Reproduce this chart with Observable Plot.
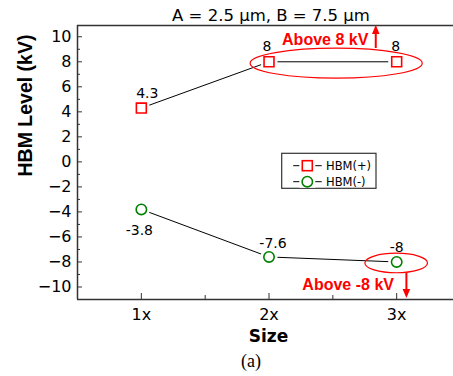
<!DOCTYPE html>
<html><head><meta charset="utf-8">
<script src="https://cdn.jsdelivr.net/npm/d3@7"></script>
<script src="https://cdn.jsdelivr.net/npm/@observablehq/plot@0.6"></script>
<style>html,body{margin:0;padding:0;background:#fff} svg{display:block}</style>
</head><body><div id="chart"></div>
<script>
// ---- data ----
const sizes = [1, 2, 3];
const sizeLabels = ["1x", "2x", "3x"];
const hbmPos = [4.3, 8, 8];
const hbmNeg = [-3.8, -7.6, -8];
const seriesNames = ["HBM(+)", "HBM(-)"];
const yMajorTicks = [-10, -8, -6, -4, -2, 0, 2, 4, 6, 8, 10];
const yMinorTicks = [-9, -7, -5, -3, -1, 1, 3, 5, 7, 9];
const xMinorTicks = [1.5, 2.5];
const titleText = "A = 2.5 μm, B = 7.5 μm";
const xTitle = "Size";
const yTitle = "HBM Level (kV)";
const captionText = "(a)";
const annotTexts = ["Above 8 kV", "Above -8 kV"];

// ---- annotation placement (data units) ----
const annotX = [2.44, 2.62];
const annotY = [9.78, -9.86];
const ellipses = [
  {cx: 2.53, cy: 7.85, rx: 0.674, ry: 1.2},
  {cx: 3.0, cy: -8.12, rx: 0.245, ry: 0.78}
];
const arrows = [
  {x: 2.84, y1: 9.06, y2: 10.9},
  {x: 3.08, y1: -8.9, y2: -10.92}
];
// label offsets (px)
const posDx = [6, -2, -1], posDy = [-15, -15, -15];
const negDx = [-2, 4, 0], negDy = [21.5, -13.5, -14.5];

const RED = "#ff0000", GREEN = "#008000", AX = "#333";
const posData = sizes.map((s, i) => ({x: s, y: hbmPos[i], i}));
const negData = sizes.map((s, i) => ({x: s, y: hbmNeg[i], i}));

const chart = Plot.plot({
  width: 453, height: 376,
  marginLeft: 77, marginRight: 0, marginTop: 25, marginBottom: 77,
  style: {fontFamily: "DejaVu Sans", fontSize: "16px", color: "#000", background: "#fff", overflow: "visible"},
  x: {type: "linear", domain: [0.5, 3.445]},
  y: {domain: [-11, 10.9]},
  marks: [
    Plot.axisY({ticks: yMajorTicks, tickSize: 0, tickPadding: 6, fontSize: 16, label: null}),
    Plot.axisY({ticks: yMajorTicks, tickSize: 5, dx: 5, tickFormat: () => "", label: null, stroke: AX}),
    Plot.axisY({ticks: yMinorTicks, tickSize: 3, dx: 3, tickFormat: () => "", label: null, stroke: AX}),
    Plot.axisX({ticks: sizes, tickSize: 0, tickPadding: 9.5, fontSize: 16, tickFormat: d => sizeLabels[sizes.indexOf(d)], label: null}),
    Plot.axisX({ticks: sizes, tickSize: 6, dy: -6, tickFormat: () => "", label: null, stroke: AX}),
    Plot.axisX({ticks: xMinorTicks, tickSize: 4, dy: -4, tickFormat: () => "", label: null, stroke: AX}),
    Plot.ruleX([0.5], {stroke: AX, strokeWidth: 1.5}),
    Plot.ruleY([-11, 10.9], {stroke: AX, strokeWidth: 1.5}),
    // series lines
    Plot.line(posData, {x: "x", y: "y", stroke: "#000", strokeWidth: 1}),
    Plot.line(negData, {x: "x", y: "y", stroke: "#000", strokeWidth: 1}),
    // white gaps round the markers
    Plot.dot(posData, {x: "x", y: "y", r: 8.5, fill: "white"}),
    Plot.dot(negData, {x: "x", y: "y", r: 8.5, fill: "white"}),
    Plot.dot(posData, {x: "x", y: "y", symbol: "square", r: 5.6, stroke: RED, strokeWidth: 1.6, fill: "white"}),
    Plot.dot(negData, {x: "x", y: "y", symbol: "circle", r: 5.2, stroke: GREEN, strokeWidth: 1.6, fill: "white"}),
    // value labels
    ...posData.map((d, k) => Plot.text([d], {x: "x", y: "y", text: e => String(hbmPos[e.i]), dx: posDx[k], dy: posDy[k], fontSize: 14, fill: "#000"})),
    ...negData.map((d, k) => Plot.text([d], {x: "x", y: "y", text: e => String(hbmNeg[e.i]), dx: negDx[k], dy: negDy[k], fontSize: 14, fill: "#000"})),
    // annotations
    Plot.text(annotTexts, {x: (d, i) => annotX[i], y: (d, i) => annotY[i], text: d => d, fill: RED, fontFamily: "Liberation Sans", fontWeight: "bold", fontSize: 16}),
    // titles
    Plot.text([titleText], {frameAnchor: "top", dx: 5.5, dy: -5, lineAnchor: "bottom", fontSize: 16.5, fill: "#000"}),
    Plot.text([xTitle], {frameAnchor: "bottom", dx: 3, dy: 42.7, lineAnchor: "bottom", fontSize: 17, fontWeight: "bold", fill: "#000"}),
    Plot.text([captionText], {frameAnchor: "bottom", dx: -14.5, dy: 67, lineAnchor: "bottom", fontSize: 18, fontFamily: "Liberation Serif", fill: "#000"}),
    Plot.text([yTitle], {frameAnchor: "left", rotate: -90, dx: -51.5, dy: 14, fontSize: 19.5, fontFamily: "Liberation Sans", fontWeight: "bold", fill: "#000"})
  ]
});
document.getElementById("chart").appendChild(chart);

// ---- ellipses, arrows and legend via the plot's own scales ----
const sx = chart.scale("x"), sy = chart.scale("y");
const svg = d3.select(chart);
const g = svg.append("g");
ellipses.forEach(e => {
  const cx = sx.apply(e.cx), cy = sy.apply(e.cy);
  const rx = Math.abs(sx.apply(e.cx + e.rx) - cx), ry = Math.abs(sy.apply(e.cy + e.ry) - cy);
  g.append("ellipse").attr("cx", cx).attr("cy", cy).attr("rx", rx).attr("ry", ry)
    .attr("fill", "none").attr("stroke", RED).attr("stroke-width", 1.2);
});
arrows.forEach(a => {
  const x = sx.apply(a.x), y1 = sy.apply(a.y1), y2 = sy.apply(a.y2);
  const dir = Math.sign(y2 - y1), head = 9, hw = 3.8;
  g.append("line").attr("x1", x).attr("x2", x).attr("y1", y1).attr("y2", y2 - dir * head)
    .attr("stroke", RED).attr("stroke-width", 2);
  g.append("path").attr("d", `M${x},${y2}L${x - hw},${y2 - dir * head}L${x + hw},${y2 - dir * head}Z`).attr("fill", RED);
});
// legend
const lg = svg.append("g").attr("text-anchor", "start");
const lx = 281.7, ly = 153.3, lw = 94.3, lh = 35;
lg.append("rect").attr("x", lx).attr("y", ly).attr("width", lw).attr("height", lh)
  .attr("fill", "white").attr("stroke", AX).attr("stroke-width", 1.2);
seriesNames.forEach((name, i) => {
  const yy = ly + 12.4 + i * 16;
  const mx = lx + 25.6;
  lg.append("line").attr("x1", lx + 11.5).attr("x2", lx + 40).attr("y1", yy).attr("y2", yy).attr("stroke", "#000").attr("stroke-width", 1);
  lg.append("rect").attr("x", mx - 8).attr("y", yy - 6).attr("width", 16).attr("height", 12).attr("fill", "white");
  if (i === 0) {
    lg.append("rect").attr("x", mx - 5).attr("y", yy - 5).attr("width", 10).attr("height", 10)
      .attr("fill", "white").attr("stroke", RED).attr("stroke-width", 1.6);
  } else {
    lg.append("circle").attr("cx", mx).attr("cy", yy).attr("r", 5.2)
      .attr("fill", "white").attr("stroke", GREEN).attr("stroke-width", 1.6);
  }
  lg.append("text").attr("x", lx + 44.3).attr("y", yy).attr("dy", "0.36em").attr("text-anchor", "start")
    .attr("font-family", "DejaVu Sans").attr("font-size", 11.5).attr("fill", "#000").text(name);
});
</script>
</body></html>
